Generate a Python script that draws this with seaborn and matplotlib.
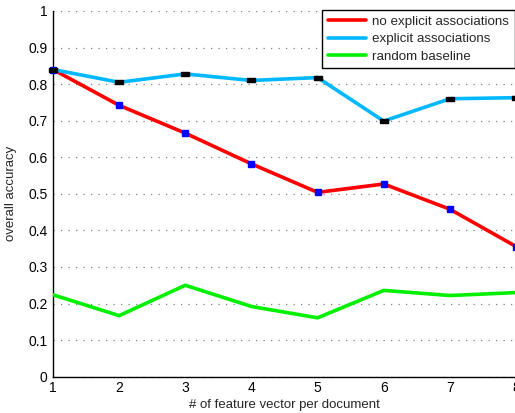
import matplotlib
matplotlib.use("Agg")
import matplotlib.pyplot as plt
import seaborn as sns
import pandas as pd
import numpy as np
from matplotlib.path import Path

# ---- data ----
features = [1, 2, 3, 4, 5, 6, 7, 8]
no_explicit = [0.840, 0.742, 0.666, 0.582, 0.504, 0.527, 0.458, 0.356]
explicit = [0.840, 0.805, 0.828, 0.810, 0.818, 0.699, 0.760, 0.763]
random_base = [0.224, 0.167, 0.250, 0.192, 0.161, 0.236, 0.222, 0.230]
series_names = ["no explicit associations", "explicit associations", "random baseline"]
y_ticks = [0, 0.1, 0.2, 0.3, 0.4, 0.5, 0.6, 0.7, 0.8, 0.9, 1]
y_tick_labels = ["0", "0.1", "0.2", "0.3", "0.4", "0.5", "0.6", "0.7", "0.8", "0.9", "1"]

sns.set_style("white")
plt.rcParams["font.family"] = ["Liberation Sans", "DejaVu Sans"]

fig = plt.figure(figsize=(5.15, 4.13), dpi=100)
ax = fig.add_axes([53 / 515, (413 - 376.7) / 413, 1.0 - 53 / 515 + 0.002, (376.7 - 11) / 413])

df = pd.DataFrame({
    "x": features * 3,
    "y": no_explicit + explicit + random_base,
    "series": [series_names[0]] * 8 + [series_names[1]] * 8 + [series_names[2]] * 8,
})

palette = {series_names[0]: "#ff0000", series_names[1]: "#00b8ff", series_names[2]: "#00f000"}

# grid first
for yt in y_ticks:
    ax.axhline(yt, color="#808080", linestyle=(0, (1, 5)), linewidth=0.9, zorder=0)

sns.lineplot(data=df, x="x", y="y", hue="series", palette=palette, linewidth=2.6,
             ax=ax, legend=True, zorder=3, sort=False)

# markers
ax.plot(features, no_explicit, linestyle="none", marker="s", markersize=4.5,
        markerfacecolor="#0000ff", markeredgecolor="#0000ff", zorder=4, clip_on=False)
rect = Path([(-1, -0.6), (1, -0.6), (1, 0.6), (-1, 0.6), (-1, -0.6)],
            [Path.MOVETO, Path.LINETO, Path.LINETO, Path.LINETO, Path.CLOSEPOLY])
ax.plot(features, explicit, linestyle="none", marker=rect, markersize=5.8,
        markerfacecolor="black", markeredgecolor="black", zorder=5, clip_on=False)

ax.set_xlim(1, 8)
ax.set_ylim(0, 1)
ax.set_xticks(features)
ax.set_xticklabels([str(f) for f in features])
ax.set_yticks(y_ticks)
ax.set_yticklabels(y_tick_labels)
ax.tick_params(axis="both", labelsize=10, colors="black", direction="in", length=4, width=0.8, pad=3)
ax.tick_params(axis="y", length=3, pad=4)

for s in ["top", "right"]:
    ax.spines[s].set_visible(False)
for s in ["left", "bottom"]:
    ax.spines[s].set_color("black")
    ax.spines[s].set_linewidth(1.0)

ax.set_xlabel("# of feature vector per document", fontsize=9.5, labelpad=3)
ax.set_ylabel("overall accuracy", fontsize=9.5, labelpad=8)

handles, labels = ax.get_legend_handles_labels()
leg = ax.legend(handles, labels, loc="upper left", bbox_to_anchor=(322 / 515, (413 - 10) / 413),
                bbox_transform=fig.transFigure, borderaxespad=0, fontsize=9.6,
                handlelength=2.9, handletextpad=0.45, labelspacing=0.38,
                borderpad=0.42, frameon=True, fancybox=False, edgecolor="black", framealpha=1)
leg.get_frame().set_linewidth(1.0)
for lh in leg.get_lines():
    lh.set_linewidth(2.6)

fig.savefig("out.png", dpi=100)
